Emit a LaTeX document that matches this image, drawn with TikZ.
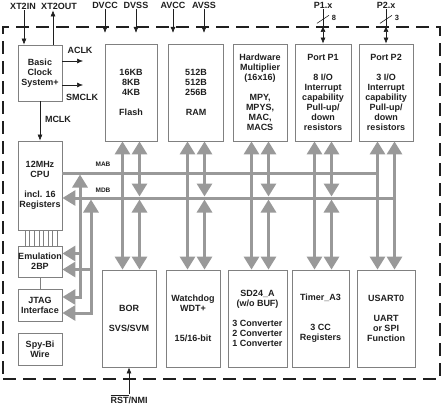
\documentclass[tikz,border=0pt]{standalone}
\usepackage{fontspec}
\setmainfont{Liberation Sans}
\usetikzlibrary{arrows.meta}
\definecolor{busgray}{gray}{0.6}
\definecolor{framegray}{gray}{0.5}
\definecolor{inkgray}{gray}{0.12}
\tikzset{
  bushead/.tip={Triangle[width=15pt,length=13pt]},
  pinhead/.tip={Latex[length=6pt,width=5pt]},
  block/.style={draw=framegray,line width=0.8pt,align=center,inner sep=0pt,text=inkgray,
    font=\bfseries\fontsize{9}{10}\selectfont},
  bus/.style={draw=busgray,line width=3pt,>=bushead},
  pin/.style={text=inkgray,font=\bfseries\fontsize{9}{10}\selectfont,inner sep=1pt},
  sig/.style={draw=inkgray,line width=0.6pt,>=pinhead},
  wire/.style={draw=framegray,line width=0.5pt},
}
\begin{document}
\begin{tikzpicture}[x=1pt,y=-1pt,>=latex]
  \useasboundingbox (0,0) rectangle (443,407);
  % chip outline
  \node[draw=inkgray,line width=2.2pt,dash pattern=on 13pt off 7pt,inner sep=0pt,
    minimum width=437pt,minimum height=352pt] (chip) at (221.5,203) {};
  % left column
  \node[block,minimum width=44pt,minimum height=56pt] (clock) at (40,73) {Basic\\Clock\\System+};
  \node[block,minimum width=44pt,minimum height=89pt] (cpu) at (40,185.5) {12MHz\\CPU\\[10pt]incl. 16\\Registers};
  \node[block,minimum width=44pt,minimum height=31pt] (emu) at (40,261.5) {Emulation\\2BP};
  \node[block,minimum width=44pt,minimum height=32pt] (jtag) at (40,305) {JTAG\\Interface};
  \node[block,minimum width=44pt,minimum height=32pt] (spybi) at (40,349) {Spy-Bi\\Wire};
  % top row
  \node[block,minimum width=52pt,minimum height=97pt] (flash) at (131,92.5) {16KB\\8KB\\4KB\\[10pt]Flash};
  \node[block,minimum width=55pt,minimum height=97pt] (ram) at (196,92.5) {512B\\512B\\256B\\[10pt]RAM};
  \node[block,minimum width=54pt,minimum height=97pt] (mult) at (260,92.5) {Hardware\\Multiplier\\(16x16)\\[10pt]MPY,\\MPYS,\\MAC,\\MACS};
  \node[block,minimum width=56pt,minimum height=97pt] (p1) at (323,92.5) {Port P1\\[10pt]8 I/O\\Interrupt\\capability\\Pull-up/\\down\\resistors};
  \node[block,minimum width=54pt,minimum height=97pt] (p2) at (386,92.5) {Port P2\\[10pt]3 I/O\\Interrupt\\capability\\Pull-up/\\down\\resistors};
  % bottom row
  \node[block,minimum width=54pt,minimum height=97pt] (bor) at (129,318.5) {BOR\\[10pt]SVS/SVM};
  \node[block,minimum width=54pt,minimum height=97pt] (wdt) at (193,318.5) {Watchdog\\WDT+\\[20pt]15/16-bit};
  \node[block,minimum width=59pt,minimum height=97pt] (sd24) at (257.5,318.5) {SD24\_A\\(w/o BUF)\\[10pt]3 Converter\\2 Converter\\1 Converter};
  \node[block,minimum width=57pt,minimum height=97pt] (timer) at (320.5,318.5) {Timer\_A3\\[20pt]3 CC\\Registers};
  \node[block,minimum width=58pt,minimum height=97pt] (usart) at (386,318.5) {USART0\\[10pt]UART\\or SPI\\Function};
  % pins
  \node[pin] (xin) at (23,6) {XT2IN};
  \node[pin] (xout) at (59,6) {XT2OUT};
  \draw[sig,->] ([xshift=-16pt]clock.north |- xin.south) -- ([xshift=-16pt]clock.north);
  \draw[sig,->] ([xshift=13pt]clock.north) -- ([xshift=13pt]clock.north |- xout.south);
  \foreach \p/\x/\t in {dvcc/105/DVCC,dvss/136/DVSS,avcc/173/AVCC,avss/204/AVSS}{
    \node[pin] (\p) at (\x,5) {\t};
    \draw[sig,->] (\p.south) -- ([yshift=-7pt]\p.south |- chip.north);
  }
  \foreach \p/\n/\t in {p1/8/P1.x,p2/3/P2.x}{
    \node[pin] (\p x) at (\p.north |- 0,5) {\t};
    \draw[sig] (\p x.south) -- (\p x.south |- chip.north);
    \draw[sig,<->] (\p.north |- chip.north) -- (\p.north);
    \draw[sig] ([xshift=-6pt,yshift=-14pt]\p x.south) -- ([xshift=6pt,yshift=-6pt]\p x.south);
    \node[pin,font=\bfseries\fontsize{7.5}{8}\selectfont] (\p n) at ([xshift=11pt,yshift=-9pt]\p x.south) {\n};
  }
  \node[pin] (rst) at (129,399) {$\overline{\hbox{RST}}$/NMI};
  \draw[sig,->] (rst.north) -- (bor.south);
  % clocks
  \coordinate (aclkend) at (83,61);
  \coordinate (smclkend) at (83,85);
  \draw[sig,->] (clock.east |- aclkend) -- (aclkend);
  \draw[sig,->] (clock.east |- smclkend) -- (smclkend);
  \node[pin] (aclk) at (80,50) {ACLK};
  \node[pin] (smclk) at (82,97) {SMCLK};
  \draw[sig,->] (clock.south) -- (cpu.north);
  \node[pin] (mclk) at (58,119) {MCLK};
  % debug wiring
  \foreach \i in {0,...,7}
    \draw[wire] ([xshift={(-15+\i*4.6)*1pt}]cpu.south) -- ([xshift={(-15+\i*4.6)*1pt}]cpu.south |- emu.north);
  \draw[wire] (emu.south) -- (jtag.north);
  % buses
  \coordinate (mab) at (0,173);
  \coordinate (mdb) at (0,198);
  \coordinate (tapa) at (80,0);
  \coordinate (tapd) at (91,0);
  \node[pin,font=\bfseries\fontsize{6.5}{7}\selectfont] (mablbl) at (103,164) {MAB};
  \node[pin,font=\bfseries\fontsize{6.5}{7}\selectfont] (mdblbl) at (103,190) {MDB};
  \draw[bus] (cpu.east |- mab) -- ([xshift=-8.5pt]p2.south |- mab);
  \draw[bus,<-] (cpu.east |- mdb) -- ([xshift=8.5pt]p2.south |- mdb);
  \foreach \t/\b in {flash/bor,ram/wdt,mult/sd24,p1/timer}{
    \draw[bus,<->] ([xshift=-8.5pt]\t.south) -- ([xshift=-8.5pt]\t.south |- \b.north);
    \draw[bus,<->,shorten >=1.5pt] ([xshift=8.5pt]\t.south) -- ([xshift=8.5pt]\t.south |- mdb);
    \draw[bus,<->,shorten <=1.5pt] ([xshift=8.5pt]\t.south |- mdb) -- ([xshift=8.5pt]\t.south |- \b.north);
  }
  \draw[bus,<->] ([xshift=-8.5pt]p2.south) -- ([xshift=-8.5pt]p2.south |- usart.north);
  \draw[bus,<->] ([xshift=8.5pt]p2.south) -- ([xshift=8.5pt]p2.south |- usart.north);
  \draw[bus,<->,shorten <=1.5pt] (tapa |- mab) -- ([yshift=8pt]jtag.east -| tapa) -- ([yshift=8pt]jtag.east);
  \draw[bus,->] ([yshift=8pt]emu.east -| tapa) -- ([yshift=8pt]emu.east);
  \draw[bus,<->,shorten <=1.5pt] (tapd |- mdb) -- ([yshift=-8pt]jtag.east -| tapd) -- ([yshift=-8pt]jtag.east);
  \draw[bus,->] ([yshift=-8pt]emu.east -| tapd) -- ([yshift=-8pt]emu.east);
\end{tikzpicture}
\end{document}
